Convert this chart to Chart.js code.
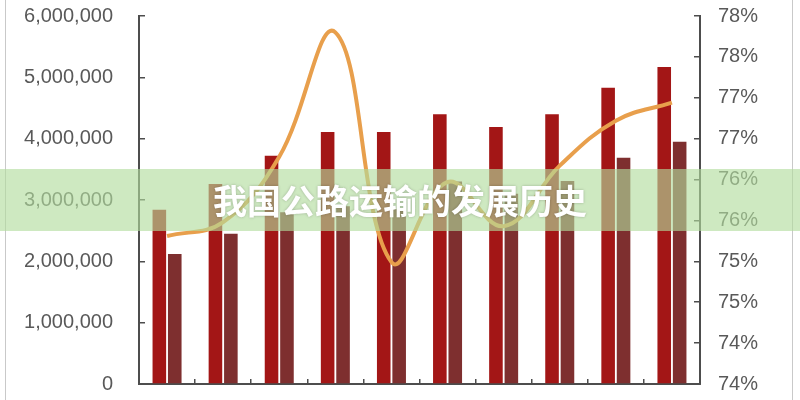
<!DOCTYPE html>
<html>
<head>
<meta charset="utf-8">
<script src="https://cdn.jsdelivr.net/npm/chart.js@4.4.0/dist/chart.umd.min.js"></script>
<style>
  html, body { margin: 0; padding: 0; background: #fff; }
  #wrap { position: relative; width: 800px; height: 400px; overflow: hidden; }
  #frame { position: absolute; left: 5px; top: 0; width: 786px; height: 400px;
           border-left: 1px solid #c9c9c9; border-right: 1px solid #c9c9c9; pointer-events: none; }
  #banner { position: absolute; left: 0; top: 169px; width: 800px; height: 62px;
            background: rgba(177, 220, 157, 0.63);
            font-family: "Noto Sans CJK SC", sans-serif; font-weight: bold; font-size: 34px;
            color: #fff; text-align: center; line-height: 62px;
            text-shadow: 0 0 3px rgba(0,0,0,0.25); }
</style>
</head>
<body>
<div id="wrap">
  <canvas id="chart" width="800" height="400"></canvas>
  <div id="frame"></div>
  <div id="banner">我国公路运输的发展历史</div>
</div>
<script>
// categories (x labels are cut off in the picture)
var categories = ['1', '2', '3', '4', '5', '6', '7', '8', '9', '10'];
// bar series, left axis
var seriesA = [2840000, 3260000, 3720000, 4110000, 4110000, 4400000, 4190000, 4400000, 4830000, 5170000];
var seriesB = [2120000, 2450000, 2800000, 2900000, 2850000, 3300000, 3100000, 3310000, 3690000, 3950000];
// share line, right axis (percent)
var shareLine = [75.41, 75.58, 76.38, 77.90, 75.09, 76.07, 75.53, 76.27, 76.82, 77.04];
// right axis tick values (shown rounded)
var rightTicks = [73.6, 74.1, 74.6, 75.1, 75.6, 76.1, 76.6, 77.1, 77.6, 78.1];

var tickFont = { family: 'Liberation Sans', size: 20 };
var axisColor = '#4d4d4d';

// keep the tick padding from pushing the plot area in
function noScalePadding(scale) {
    scale.paddingTop = 0;
    scale.paddingBottom = 0;
}

new Chart(document.getElementById('chart'), {
    type: 'bar',
    data: {
        labels: categories,
        datasets: [
            {
                type: 'line',
                data: shareLine,
                yAxisID: 'y1',
                borderColor: '#E89F4C',
                borderWidth: 4,
                tension: 0.4,
                pointRadius: 0,
                fill: false,
                order: 0
            },
            {
                data: seriesA,
                yAxisID: 'y',
                backgroundColor: '#A31616',
                categoryPercentage: 0.55,
                barPercentage: 0.88,
                order: 1
            },
            {
                data: seriesB,
                yAxisID: 'y',
                backgroundColor: '#7E2F2F',
                categoryPercentage: 0.55,
                barPercentage: 0.88,
                order: 1
            }
        ]
    },
    options: {
        responsive: false,
        animation: false,
        devicePixelRatio: 1,
        layout: { padding: { top: 16, left: 0, right: 0, bottom: 0 } },
        plugins: {
            legend: { display: false },
            tooltip: { enabled: false }
        },
        scales: {
            x: {
                offset: true,
                grid: { offset: true, drawOnChartArea: false, drawTicks: true, tickLength: -5, tickColor: axisColor, lineWidth: 1.5 },
                border: { display: true, color: axisColor, width: 2 },
                ticks: { display: false },
                afterFit: function (scale) { scale.height = 16; }
            },
            y: {
                position: 'left',
                min: 0,
                max: 6000000,
                ticks: {
                    stepSize: 1000000,
                    padding: 32,
                    color: '#595959',
                    font: tickFont,
                    callback: function (v) { return v.toLocaleString('en-US'); }
                },
                grid: { drawOnChartArea: false, drawTicks: true, tickLength: -6, tickColor: axisColor, lineWidth: 1.5 },
                border: { display: true, color: axisColor, width: 2 },
                afterFit: function (scale) { scale.width = 139; noScalePadding(scale); }
            },
            y1: {
                position: 'right',
                min: rightTicks[0],
                max: rightTicks[rightTicks.length - 1],
                afterBuildTicks: function (scale) {
                    scale.ticks = rightTicks.map(function (v) { return { value: v }; });
                },
                ticks: {
                    padding: 24,
                    color: '#595959',
                    font: tickFont,
                    callback: function (v) { return Math.round(v) + '%'; }
                },
                grid: { drawOnChartArea: false, drawTicks: true, tickLength: -6, tickColor: axisColor, lineWidth: 1.5 },
                border: { display: true, color: axisColor, width: 2 },
                afterFit: function (scale) { scale.width = 100; noScalePadding(scale); }
            }
        }
    }
});
</script>
</body>
</html>
